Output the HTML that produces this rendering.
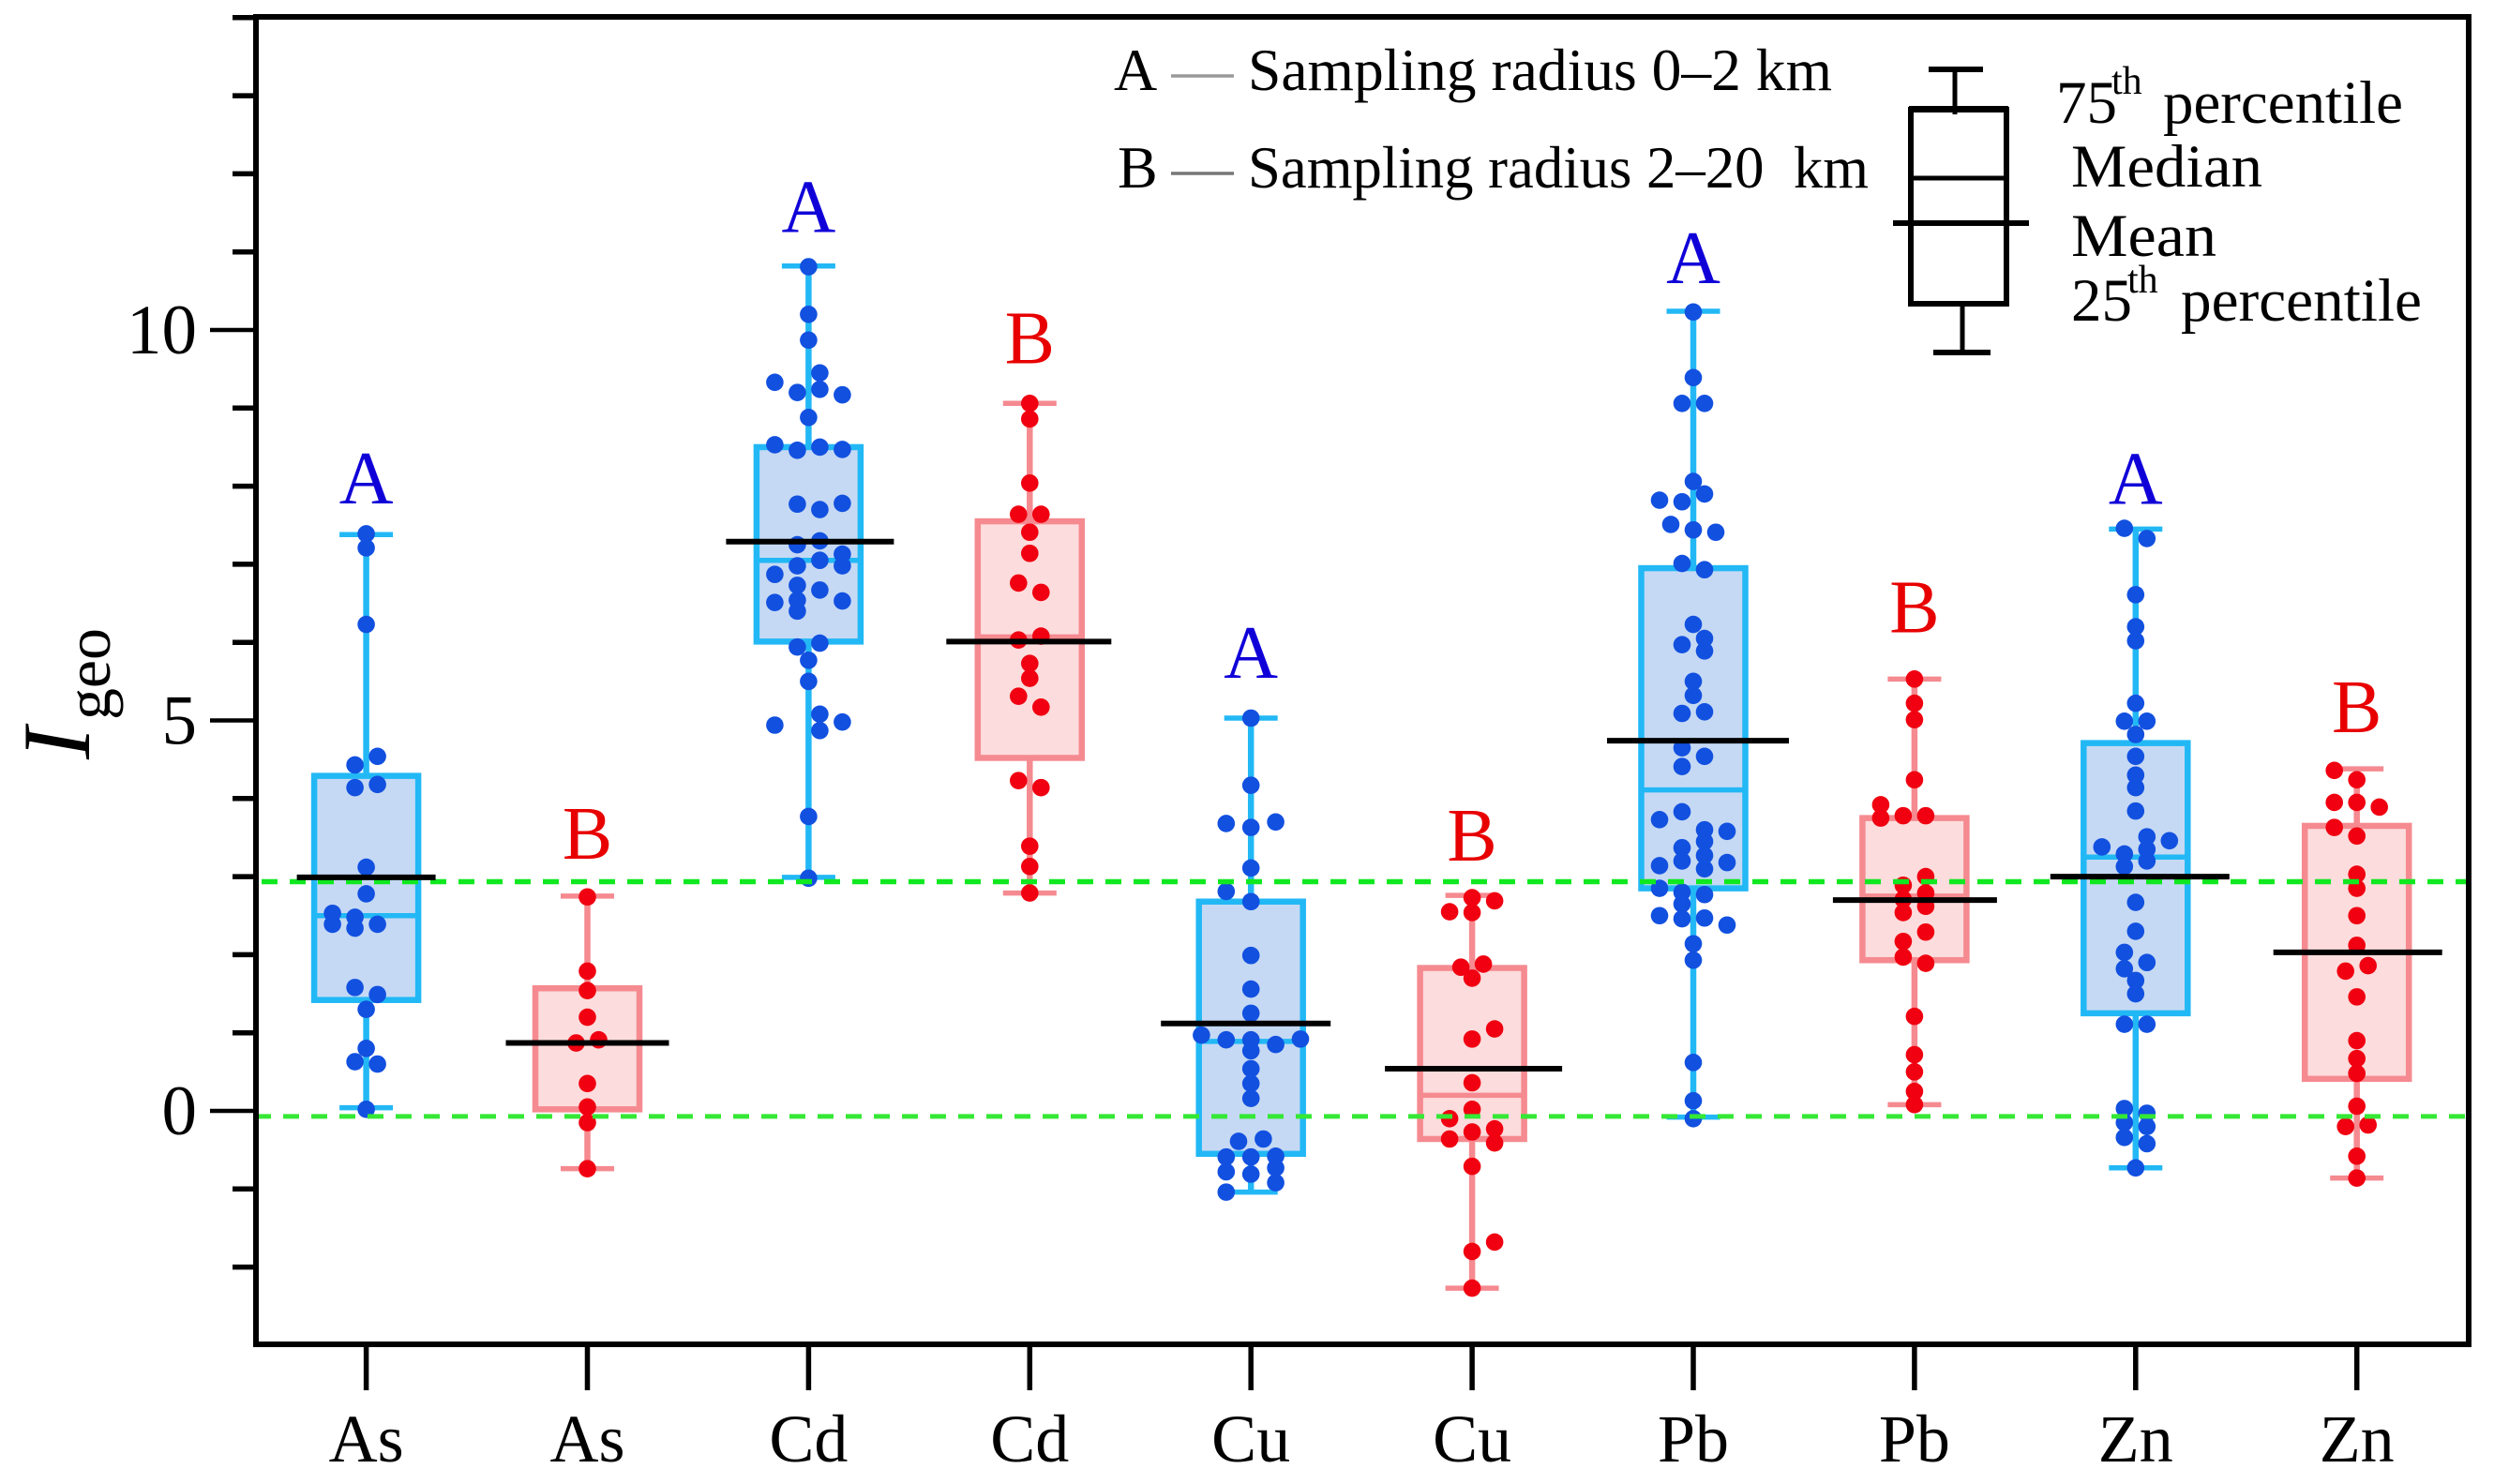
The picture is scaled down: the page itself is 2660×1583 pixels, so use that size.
<!DOCTYPE html>
<html lang="en">
<head>
<meta charset="utf-8">
<title>Igeo box plot</title>
<style>
html,body{margin:0;padding:0;background:#fff;}
svg{display:block;}
text{font-family:"Liberation Serif",serif;fill:#000;}
</style>
</head>
<body>
<svg id="chart" xmlns="http://www.w3.org/2000/svg" width="2660" height="1583" viewBox="0 0 2660 1583">
  <rect x="0" y="0" width="2660" height="1583" fill="#fff"/>
  <g id="marks"></g>
  <g id="axes"></g>
  <rect x="273" y="18" width="2360" height="1416" fill="none" stroke="#000" stroke-width="6"/>

  <g>
    <text transform="translate(95,810) rotate(-90)" font-size="103" font-style="italic">I</text>
    <text transform="translate(117,768) rotate(-90)" font-size="68" textLength="98" lengthAdjust="spacingAndGlyphs">geo</text>
  </g>

  <g>
    <text x="1188" y="96" font-size="64">A</text>
    <line x1="1249" x2="1316" y1="81" y2="81" stroke="#999" stroke-width="3.5"/>
    <text x="1331" y="96" font-size="64" textLength="623" lengthAdjust="spacingAndGlyphs">Sampling radius 0–2 km</text>
    <text x="1192" y="200" font-size="64">B</text>
    <line x1="1249" x2="1316" y1="185" y2="185" stroke="#777" stroke-width="3.5"/>
    <text x="1331" y="200" font-size="64" textLength="662" lengthAdjust="spacingAndGlyphs" xml:space="preserve">Sampling radius 2–20  km</text>
  </g>

  <g stroke="#000" fill="none">
    <line x1="2085" x2="2085" y1="74" y2="122" stroke-width="5"/>
    <line x1="2057" x2="2115" y1="74" y2="74" stroke-width="6"/>
    <rect x="2038" y="117" width="102" height="207" stroke-width="6"/>
    <line x1="2036" x2="2142" y1="116" y2="116" stroke-width="6"/>
    <line x1="2038" x2="2140" y1="190" y2="190" stroke-width="5"/>
    <line x1="2019" x2="2164" y1="238" y2="238" stroke-width="6"/>
    <line x1="2093" x2="2093" y1="327" y2="376" stroke-width="5"/>
    <line x1="2062" x2="2123" y1="376" y2="376" stroke-width="6"/>
  </g>
  <g font-size="65">
    <text x="2193" y="131" font-size="65">75</text>
    <text x="2252" y="100" font-size="42">th</text>
    <text x="2307" y="131" font-size="65" textLength="256" lengthAdjust="spacingAndGlyphs">percentile</text>
    <text x="2209" y="199" font-size="65" textLength="204" lengthAdjust="spacingAndGlyphs">Median</text>
    <text x="2209" y="273" font-size="65" textLength="155" lengthAdjust="spacingAndGlyphs">Mean</text>
    <text x="2209" y="342" font-size="65">25</text>
    <text x="2269" y="312" font-size="42">th</text>
    <text x="2326" y="342" font-size="65" textLength="257" lengthAdjust="spacingAndGlyphs">percentile</text>
  </g>
</svg>
<script>
// ---- chart data ----
const categories = ['As','As','Cd','Cd','Cu','Cu','Pb','Pb','Zn','Zn'];
const radiusGroups = ['A','B','A','B','A','B','A','B','A','B'];
const whiskerHigh = [7.38,2.75,10.82,9.06,5.03,2.76,10.24,5.53,7.45,4.38];
const quartile3 = [4.29,1.57,8.50,7.55,2.68,1.83,6.95,3.75,4.71,3.65];
const medians = [2.50,0.87,7.05,6.07,0.89,0.20,4.11,2.75,3.25,2.03];
const quartile1 = [1.42,0.02,6.01,4.52,-0.55,-0.36,2.85,1.93,1.25,0.41];
const whiskerLow = [0.04,-0.74,2.99,2.79,-1.04,-2.27,-0.08,0.08,-0.73,-0.86];
const means = [2.99,0.87,7.29,6.01,1.12,0.54,4.74,2.70,3.00,2.03];
const thresholds = [2.935,-0.07];
const yTicks = [-2,-1,0,1,2,3,4,5,6,7,8,9,10,11,12,13,14];
const yTickLabels = [0,5,10];

const dotsAsA = [7.39,7.21,6.23,4.54,4.43,4.14,4.18,3.12,2.78,2.53,2.39,2.48,2.34,2.39,1.58,1.49,1.30,0.80,0.63,0.60,0.02];
const slotsAsA = [0,0,0,1,-1,-1,1,0,0,-3,-3,-1,-1,1,-1,1,0,0,-1,1,0];
const dotsAsB = [2.74,1.79,1.54,1.20,0.87,0.91,0.35,0.05,-0.15,-0.74];
const slotsAsB = [0,0,0,0,-1,1,0,0,0,0];
const dotsCdA = [10.81,10.20,9.87,9.45,9.33,9.20,9.24,9.17,8.88,8.53,8.46,8.50,8.47,7.77,7.70,7.78,7.25,7.30,7.13,7.05,6.98,6.98,6.87,6.73,6.67,6.51,6.54,6.40,6.53,5.94,5.99,5.77,5.50,4.94,5.08,4.87,4.98,3.77,2.98];
const slotsCdA = [0,0,0,1,-3,-1,1,3,0,-3,-1,1,3,-1,1,3,-1,1,3,1,3,-1,-3,-1,1,-3,-1,-1,3,-1,1,0,0,-3,1,1,3,0,0];
const dotsCdB = [9.06,8.86,8.04,7.64,7.64,7.41,7.14,6.76,6.64,6.03,6.08,5.73,5.54,5.31,5.17,4.23,4.14,3.39,3.13,2.79];
const slotsCdB = [0,0,0,-1,1,0,0,-1,1,-1,1,0,0,-1,1,-1,1,0,0,0];
const dotsCuA = [5.03,4.17,3.68,3.70,3.63,3.11,2.81,2.68,1.99,1.56,1.25,0.97,0.91,0.91,0.85,0.92,0.77,0.54,0.35,0.16,-0.39,-0.36,-0.59,-0.59,-0.58,-0.73,-0.78,-0.81,-0.92,-1.04];
const slotsCuA = [0,0,-2.2,2.2,0,0,-2.2,0,0,0,0,-4.4,-2.2,0,2.2,4.4,0,0,0,0,-1.1,1.1,-2.2,0,2.2,2.2,-2.2,0,2.2,-2.2];
const dotsCuB = [2.73,2.69,2.55,2.54,1.84,1.88,1.70,1.05,0.92,0.36,0.02,-0.10,-0.36,-0.27,-0.23,-0.41,-0.71,-1.68,-1.80,-2.27];
const slotsCuB = [0,2,-2,0,-1,1,0,2,0,0,0,-2,-2,0,2,2,0,2,0,0];
const dotsPbA = [10.23,9.39,9.06,9.06,8.06,7.90,7.82,7.80,7.51,7.44,7.41,7.01,6.93,6.23,6.05,5.97,5.89,5.50,5.32,5.09,5.11,4.65,4.54,4.41,3.83,3.73,3.60,3.58,3.45,3.37,3.20,3.27,3.10,3.14,3.18,2.85,2.80,2.77,2.65,2.50,2.46,2.47,2.38,2.14,1.93,0.62,0.13,-0.10];
const slotsPbA = [0,0,-1,1,0,1,-3,-1,-2,0,2,-1,1,0,1,-1,1,0,0,-1,1,-1,1,-1,-1,-3,1,3,1,-1,-1,1,1,-3,3,-3,-1,1,-1,-3,-1,1,3,0,0,0,0,0];
const dotsPbB = [5.53,5.22,5.01,4.24,3.92,3.75,3.78,3.78,3.00,2.89,2.71,2.79,2.62,2.54,2.29,2.17,1.97,1.89,1.21,0.72,0.50,0.25,0.08];
const slotsPbB = [0,0,0,0,-3,-3,-1,1,1,-1,-1,1,1,-1,1,-1,-1,1,0,0,0,0,0];
const dotsZnA = [7.46,7.33,6.61,6.20,6.02,5.22,4.99,4.99,4.82,4.54,4.30,4.14,3.84,3.51,3.38,3.46,3.35,3.29,3.20,3.13,2.67,2.30,2.03,1.90,1.82,1.67,1.50,1.11,1.11,0.03,-0.03,-0.15,-0.20,-0.34,-0.42,-0.73];
const slotsZnA = [-1,1,0,0,0,0,-1,1,0,0,0,0,0,1,-3,3,1,-1,1,-1,0,0,-1,1,-1,0,0,-1,1,-1,1,-1,1,-1,1,0];
const dotsZnB = [4.36,4.24,3.95,3.95,3.89,3.63,3.52,3.03,2.85,2.50,2.12,1.86,1.79,1.46,0.90,0.67,0.48,0.06,-0.20,-0.18,-0.58,-0.86];
const slotsZnB = [-2,0,-2,0,2,-2,0,0,0,0,0,1,-1,0,0,0,0,0,-1,1,0,0];

// ---- drawing ----
const dotGroups = [dotsAsA,dotsAsB,dotsCdA,dotsCdB,dotsCuA,dotsCuB,dotsPbA,dotsPbB,dotsZnA,dotsZnB];
const slotGroups = [slotsAsA,slotsAsB,slotsCdA,slotsCdB,slotsCuA,slotsCuB,slotsPbA,slotsPbB,slotsZnA,slotsZnB];
const xScale = i => 390.6 + 235.9 * i;
const yScale = v => 1185 - 83.3 * v;
const slotWidth = 12;
const capHalf = 28.5;
const boxHalf = 55.5;
const dotRadius = 9.3;
const meanExtentLeft = [74,87,88,89,96,93,92,87,91,89];
const meanExtentRight = [74,87,91,87,85,96,102,88,100,91];
const letterLift = [33,40,36,43,43,37,30,50,27,39];
const palette = {
  A:{stroke:'#22b8f5',fill:'#c5d9f4',dot:'#1250e0',text:'#1000d8'},
  B:{stroke:'#f58a90',fill:'#fcdcdc',dot:'#f00010',text:'#e80000'}
};
const NS = 'http://www.w3.org/2000/svg';
const marks = document.getElementById('marks');
const axes = document.getElementById('axes');
function make(tag, attrs, parent) {
  const el = document.createElementNS(NS, tag);
  for (const k in attrs) el.setAttribute(k, attrs[k]);
  parent.appendChild(el);
  return el;
}

categories.forEach((cat, i) => {
  const cx = xScale(i);
  const c = palette[radiusGroups[i]];
  const id = cat.toLowerCase() + '-' + radiusGroups[i].toLowerCase();

  const whiskUp = make('line',{x1:cx,x2:cx,y1:yScale(whiskerHigh[i]),y2:yScale(quartile3[i]),stroke:c.stroke,'stroke-width':6.5},marks);
  
  

  const whiskDown = make('line',{x1:cx,x2:cx,y1:yScale(quartile1[i]),y2:yScale(whiskerLow[i]),stroke:c.stroke,'stroke-width':6.5},marks);
  
  

  const capUp = make('line',{x1:cx-capHalf,x2:cx+capHalf,y1:yScale(whiskerHigh[i]),y2:yScale(whiskerHigh[i]),stroke:c.stroke,'stroke-width':5.5},marks);
  
  

  const capDown = make('line',{x1:cx-capHalf,x2:cx+capHalf,y1:yScale(whiskerLow[i]),y2:yScale(whiskerLow[i]),stroke:c.stroke,'stroke-width':5.5},marks);
  
  

  const box = make('rect',{x:cx-boxHalf,y:yScale(quartile3[i]),width:boxHalf*2,height:yScale(quartile1[i])-yScale(quartile3[i]),fill:c.fill,stroke:c.stroke,'stroke-width':6.5},marks);
  
  

  const med = make('line',{x1:cx-boxHalf,x2:cx+boxHalf,y1:yScale(medians[i]),y2:yScale(medians[i]),stroke:c.stroke,'stroke-width':5.5},marks);
  
  

  dotGroups[i].forEach((v, j) => {
    const dot = make('circle',{cx:cx+slotGroups[i][j]*slotWidth,cy:yScale(v),r:dotRadius,fill:c.dot},marks);
    
    
  });

  const letter = make('text',{x:cx,y:yScale(whiskerHigh[i])-letterLift[i],'text-anchor':'middle','font-size':80,style:'fill:'+c.text},axes);
  letter.textContent = radiusGroups[i];
  
  

  const tick = make('line',{x1:cx,x2:cx,y1:1434,y2:1483,stroke:'#000','stroke-width':5.5},axes);
  
  

  const label = make('text',{x:cx,y:1559,'text-anchor':'middle','font-size':72},axes);
  label.textContent = cat;
  
  
});

thresholds.forEach((t, k) => {
  const line = make('line',{x1:k===0?279:272,x2:k===0?2634:2640,y1:yScale(t),y2:yScale(t),stroke:k===0?'#10e820':'#35e835','stroke-width':k===0?5.5:5,'stroke-dasharray':'17 13'},marks);
  
  
});

categories.forEach((cat, i) => {
  const cx = xScale(i);
  const meanLine = make('line',{x1:cx-meanExtentLeft[i],x2:cx+meanExtentRight[i],y1:yScale(means[i]),y2:yScale(means[i]),stroke:'#000','stroke-width':6},marks);
  
  
});

yTicks.forEach(v => {
  const major = yTickLabels.includes(v);
  const tick = make('line',{x1:major?224:248,x2:273,y1:yScale(v),y2:yScale(v),stroke:'#000','stroke-width':major?4.5:5.5},axes);
  
  
});
yTickLabels.forEach(v => {
  const label = make('text',{x:210,y:yScale(v)+25,'text-anchor':'end','font-size':75},axes);
  label.textContent = v;
  
  
});
</script>
</body>
</html>
